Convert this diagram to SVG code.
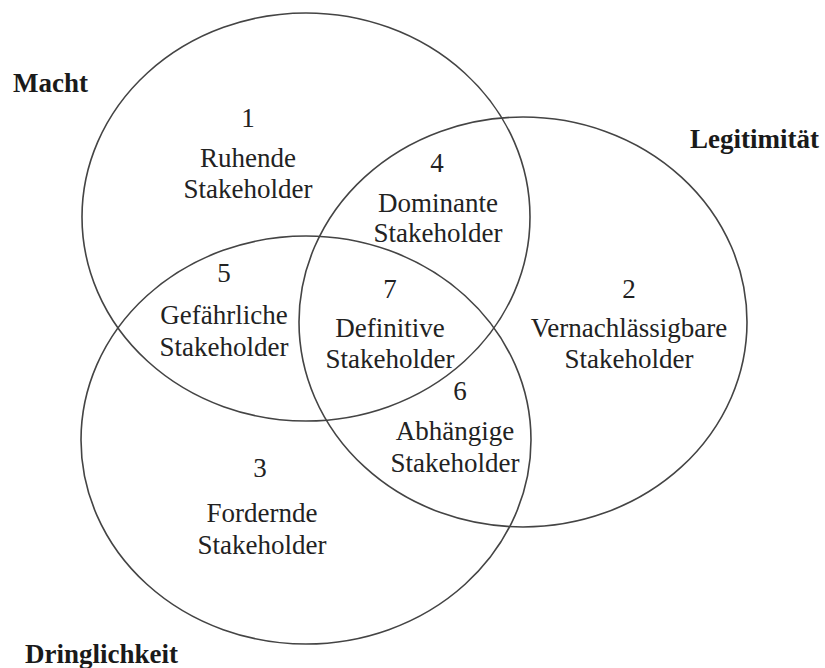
<svg xmlns="http://www.w3.org/2000/svg" width="825" height="668" viewBox="0 0 825 668">
  <style>
    .set { fill: none; stroke: #444; stroke-width: 1.6; }
    .lbl { font-family: "Liberation Serif", "Times New Roman", serif; font-size: 27px; fill: #222; text-anchor: middle; }
    .title { font-family: "Liberation Serif", "Times New Roman", serif; font-size: 27px; font-weight: bold; fill: #1a1a1a; }
  </style>
  <rect width="825" height="668" fill="#fff"/>

  <!-- the three attribute sets -->
  <g id="sets">
    <ellipse id="set-macht" class="set" cx="306" cy="217" rx="224" ry="204"/>
    <ellipse id="set-legitimitaet" class="set" cx="523" cy="322" rx="224" ry="205"/>
    <ellipse id="set-dringlichkeit" class="set" cx="306" cy="440" rx="225" ry="204"/>
  </g>

  <!-- set titles -->
  <g id="titles">
    <text class="title" x="13" y="92">Macht</text>
    <text class="title" x="690" y="148">Legitimität</text>
    <text class="title" x="25" y="663">Dringlichkeit</text>
  </g>

  <!-- stakeholder classes -->
  <g id="region-1" class="lbl">
    <text x="248" y="127">1</text>
    <text x="248" y="167">Ruhende</text>
    <text x="248" y="198">Stakeholder</text>
  </g>
  <g id="region-4" class="lbl">
    <text x="437" y="172">4</text>
    <text x="438" y="212">Dominante</text>
    <text x="438" y="242">Stakeholder</text>
  </g>
  <g id="region-5" class="lbl">
    <text x="224" y="282">5</text>
    <text x="224" y="324">Gefährliche</text>
    <text x="224" y="356">Stakeholder</text>
  </g>
  <g id="region-7" class="lbl">
    <text x="390" y="298">7</text>
    <text x="390" y="337">Definitive</text>
    <text x="390" y="368">Stakeholder</text>
  </g>
  <g id="region-2" class="lbl">
    <text x="629" y="298">2</text>
    <text x="629" y="337">Vernachlässigbare</text>
    <text x="629" y="368">Stakeholder</text>
  </g>
  <g id="region-6" class="lbl">
    <text x="460" y="400">6</text>
    <text x="455" y="440">Abhängige</text>
    <text x="455" y="472">Stakeholder</text>
  </g>
  <g id="region-3" class="lbl">
    <text x="260" y="477">3</text>
    <text x="262" y="522">Fordernde</text>
    <text x="262" y="554">Stakeholder</text>
  </g>
</svg>
